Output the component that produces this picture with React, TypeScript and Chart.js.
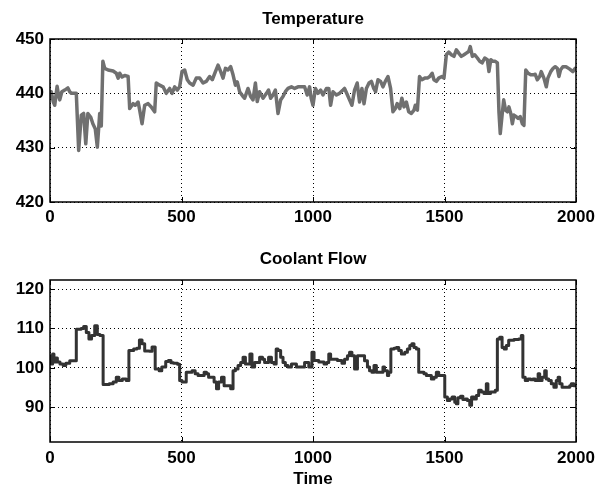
import React, { useEffect, useRef } from "react";
import { Chart, registerables } from "chart.js";

Chart.register(...registerables);

const xTicks = [0, 500, 1000, 1500, 2000];
const tempTicks = [420, 430, 440, 450];
const flowTicks = [90, 100, 110, 120];

const tempTime = [
  0, 5, 12, 18, 27, 33, 37, 45, 56, 68, 75, 81, 100, 109, 119, 128, 136, 144, 155, 163, 172, 180, 189, 195,
  201, 208, 221, 240, 252, 259, 265, 274, 284, 297, 303, 316, 324, 335, 341, 350, 360, 373, 385, 398, 404,
  417, 430, 442, 455, 464, 474, 484, 493, 502, 512, 522, 531, 544, 556, 569, 582, 594, 607, 617, 629, 639,
  649, 658, 667, 677, 687, 696, 705, 712, 721, 734, 740, 753, 763, 772, 781, 788, 797, 810, 823, 831, 839,
  848, 857, 867, 877, 886, 895, 905, 918, 930, 943, 956, 968, 978, 987, 993, 1000, 1009, 1019, 1029, 1038,
  1051, 1060, 1067, 1076, 1089, 1101, 1114, 1120, 1131, 1139, 1148, 1158, 1168, 1177, 1186, 1194, 1203,
  1213, 1222, 1231, 1238, 1247, 1257, 1266, 1275, 1285, 1295, 1304, 1313, 1320, 1330, 1338, 1346, 1355,
  1364, 1374, 1384, 1389, 1397, 1405, 1414, 1425, 1435, 1444, 1453, 1460, 1469, 1478, 1490, 1498, 1507,
  1516, 1526, 1536, 1545, 1554, 1564, 1574, 1583, 1592, 1598, 1606, 1615, 1625, 1634, 1643, 1653, 1663,
  1669, 1676, 1684, 1693, 1701, 1707, 1712, 1719, 1725, 1732, 1739, 1745, 1752, 1758, 1764, 1773, 1780,
  1788, 1796, 1802, 1809, 1818, 1828, 1836, 1845, 1853, 1862, 1868, 1878, 1887, 1893, 1904, 1913, 1921,
  1929, 1935, 1941, 1950, 1962, 1975, 1988, 1997, 2000,
];
const tempValue = [
  439.0, 440.3, 438.5, 437.8, 441.3, 439.5, 438.8, 440.3, 440.6, 441.0, 440.3, 440.0, 440.0, 429.5, 436.0,
  436.3, 430.7, 436.3, 435.6, 434.4, 433.5, 430.1, 436.3, 434.0, 445.9, 444.6, 444.3, 444.1, 443.7, 442.8,
  443.7, 443.0, 443.3, 443.1, 437.2, 438.1, 437.8, 438.4, 436.9, 434.4, 437.8, 438.1, 437.5, 436.6, 441.9,
  441.5, 441.2, 440.0, 440.9, 440.0, 441.2, 440.6, 441.2, 444.0, 444.3, 442.5, 441.9, 441.5, 442.8, 442.8,
  441.9, 442.2, 443.1, 442.5, 444.0, 445.2, 444.0, 442.8, 444.6, 444.3, 444.9, 443.4, 441.5, 442.1, 440.3,
  439.4, 439.1, 440.9, 439.4, 438.8, 441.9, 438.5, 440.3, 439.1, 440.0, 440.6, 439.1, 439.7, 440.6, 436.3,
  438.8, 439.4, 440.3, 440.9, 441.2, 440.9, 441.2, 441.2, 441.2, 439.7, 441.2, 439.1, 437.8, 440.9, 440.0,
  440.6, 439.7, 440.9, 440.9, 437.8, 440.3, 439.7, 440.0, 440.6, 440.9, 439.7, 438.8, 437.8, 440.6, 441.9,
  438.4, 440.9, 438.1, 440.9, 441.9, 442.2, 440.9, 440.3, 442.5, 442.2, 441.2, 442.2, 443.1, 440.9, 436.6,
  437.2, 438.1, 437.2, 439.1, 437.5, 438.4, 436.6, 436.3, 436.9, 437.8, 436.9, 443.1, 442.5, 442.8, 442.8,
  443.1, 443.7, 442.5, 442.2, 442.8, 443.1, 442.8, 447.1, 447.6, 447.1, 446.8, 448.0, 447.4, 446.8, 447.1,
  447.4, 447.7, 448.6, 446.8, 447.1, 446.5, 445.9, 445.6, 446.5, 446.2, 444.0, 446.2, 445.9, 445.9, 445.6,
  436.6, 432.6, 436.0, 438.8, 436.9, 436.6, 437.5, 436.3, 434.4, 436.0, 435.7, 435.4, 435.7, 434.4, 434.1,
  444.3, 443.7, 443.4, 443.4, 443.5, 442.5, 443.1, 444.0, 442.8, 441.2, 442.8, 444.0, 444.6, 444.9, 444.6,
  443.1, 444.3, 444.9, 444.9, 444.5, 444.0, 444.6, 444.3,
];

const flowTime = [
  0, 5, 10, 15, 20, 28, 38, 50, 60, 75, 100, 118, 128, 138, 148, 158, 170, 180, 190, 202, 225, 240, 252,
  262, 275, 290, 300, 318, 330, 340, 350, 360, 378, 388, 400, 415, 425, 440, 450, 460, 470, 485, 493, 502,
  518, 540, 552, 563, 586, 595, 603, 624, 633, 641, 652, 662, 687, 696, 705, 715, 725, 734, 743, 760, 768,
  778, 797, 808, 816, 831, 842, 852, 860, 867, 877, 886, 895, 905, 918, 937, 968, 984, 996, 1004, 1022,
  1042, 1052, 1060, 1067, 1093, 1110, 1120, 1131, 1139, 1148, 1158, 1169, 1186, 1196, 1207, 1215, 1224,
  1232, 1241, 1266, 1272, 1283, 1288, 1296, 1308, 1317, 1326, 1336, 1349, 1359, 1368, 1376, 1384, 1393,
  1402, 1422, 1431, 1450, 1460, 1469, 1478, 1494, 1501, 1511, 1520, 1529, 1539, 1545, 1551, 1561, 1570,
  1579, 1587, 1596, 1603, 1612, 1621, 1630, 1640, 1650, 1659, 1665, 1675, 1693, 1701, 1710, 1719, 1727,
  1735, 1744, 1764, 1782, 1792, 1798, 1807, 1817, 1828, 1836, 1845, 1856, 1862, 1871, 1881, 1887, 1896,
  1906, 1916, 1925, 1932, 1938, 1947, 1967, 1976, 1982, 1992, 2000,
];
const flowValue = [
  103.0, 101.0, 103.5, 101.5, 102.5, 101.5, 101.0, 100.6, 101.2, 101.8, 109.8, 110.0, 110.5, 109.0, 107.3,
  108.2, 110.7, 108.5, 108.2, 95.8, 96.0, 96.4, 97.6, 96.8, 97.2, 96.8, 104.4, 104.8, 105.0, 107.1, 106.1,
  104.3, 104.2, 105.3, 99.7, 99.3, 100.2, 101.6, 101.9, 101.3, 101.2, 100.9, 96.8, 96.4, 98.9, 99.3, 98.5,
  98.1, 98.9, 98.5, 97.6, 96.4, 94.7, 96.4, 97.6, 95.5, 94.7, 99.3, 99.7, 100.6, 101.4, 102.7, 101.0, 103.5,
  100.2, 101.4, 102.7, 102.2, 101.4, 102.7, 101.4, 101.0, 104.8, 104.4, 102.7, 101.4, 100.6, 100.2, 101.0,
  100.2, 101.4, 100.2, 104.0, 101.9, 101.5, 101.0, 101.4, 103.5, 102.2, 101.9, 101.2, 102.2, 103.1, 104.0,
  103.1, 99.7, 103.1, 103.1, 101.8, 100.2, 99.3, 98.9, 100.6, 98.9, 100.2, 99.3, 98.1, 98.9, 104.8, 105.0,
  105.2, 104.4, 103.5, 104.0, 104.8, 105.7, 106.1, 105.2, 104.8, 98.9, 98.5, 98.1, 97.2, 97.6, 98.9, 98.1,
  98.1, 92.6, 91.7, 92.1, 92.6, 91.3, 90.9, 92.4, 92.8, 92.0, 92.1, 91.7, 90.5, 92.6, 92.1, 93.0, 94.3,
  93.9, 93.5, 96.0, 93.5, 93.9, 94.3, 107.3, 107.8, 105.2, 104.8, 105.7, 107.0, 107.2, 107.3, 108.2, 97.6,
  96.8, 97.2, 97.0, 97.2, 96.8, 98.5, 96.8, 97.6, 99.3, 97.2, 96.8, 96.0, 95.1, 96.8, 97.6, 96.0, 95.1,
  95.1, 95.5, 96.0, 95.5, 95.5,
];

const FONT = "'Liberation Sans', Arial, Helvetica, sans-serif";

const boxPlugin = {
  id: "boxTicks",
  afterDraw(chart: any) {
    const { ctx, chartArea: a, scales } = chart;
    const L = 5;
    ctx.save();
    ctx.strokeStyle = "#000";
    ctx.lineWidth = 1;
    ctx.beginPath();
    scales.x.ticks.forEach((t: any) => {
      const px = Math.round(scales.x.getPixelForValue(t.value)) + 0.5;
      ctx.moveTo(px, a.bottom);
      ctx.lineTo(px, a.bottom - L);
      ctx.moveTo(px, a.top);
      ctx.lineTo(px, a.top + L);
    });
    scales.y.ticks.forEach((t: any) => {
      const py = Math.round(scales.y.getPixelForValue(t.value)) + 0.5;
      ctx.moveTo(a.left, py);
      ctx.lineTo(a.left + L, py);
      ctx.moveTo(a.right, py);
      ctx.lineTo(a.right - L, py);
    });
    ctx.stroke();
    ctx.lineWidth = 1.5;
    ctx.strokeRect(a.left, a.top, a.right - a.left, a.bottom - a.top);
    ctx.restore();
  },
};

type PanelProps = {
  title: string;
  times: number[];
  values: number[];
  color: string;
  lineWidth: number;
  stepped: boolean;
  yMin: number;
  yMax: number;
  yTicks: number[];
  titlePadTop: number;
  titlePadBottom: number;
  xHeight: number;
  xTickPad: number;
  xTitle?: string;
  top: number;
};

function Panel(p: PanelProps) {
  const ref = useRef<HTMLCanvasElement | null>(null);
  useEffect(() => {
    if (!ref.current) return;
    const pts = p.times.map((t, i) => ({ x: t, y: p.values[i] }));
    const tickFont = { family: FONT, size: 17, weight: "bold" as const, lineHeight: 1.2 };
    const chart = new Chart(ref.current, {
      type: "line",
      data: {
        datasets: [
          {
            data: pts,
            borderColor: p.color,
            borderWidth: p.lineWidth,
            pointRadius: 0,
            tension: 0,
            fill: false,
            borderJoinStyle: "round",
            stepped: p.stepped ? "before" : false,
          } as any,
        ],
      },
      options: {
        animation: false,
        responsive: false,
        devicePixelRatio: 1,
        layout: { padding: { left: 0, right: 19, top: 0, bottom: 0 } },
        plugins: {
          legend: { display: false },
          tooltip: { enabled: false },
          title: {
            display: true,
            fullSize: false,
            text: p.title,
            color: "#000",
            font: { family: FONT, size: 17, weight: "bold", lineHeight: 1.2 },
            padding: { top: p.titlePadTop, bottom: p.titlePadBottom },
          },
        },
        scales: {
          x: {
            type: "linear",
            min: 0,
            max: 2000,
            afterBuildTicks: (s: any) => {
              s.ticks = xTicks.map((v) => ({ value: v }));
            },
            afterFit: (s: any) => {
              s.height = p.xHeight;
              s.paddingLeft = 0;
              s.paddingRight = 0;
            },
            grid: { color: "#000", lineWidth: 1, drawTicks: false },
            border: { display: false, dash: [1, 3] },
            ticks: {
              color: "#000",
              font: tickFont,
              padding: p.xTickPad,
              maxRotation: 0,
              autoSkip: false,
              callback: (v: any) => String(v),
            },
            title: p.xTitle
              ? {
                  display: true,
                  text: p.xTitle,
                  color: "#000",
                  font: { family: FONT, size: 17, weight: "bold", lineHeight: 1 },
                  padding: { top: 0, bottom: -2 },
                }
              : { display: false },
          },
          y: {
            type: "linear",
            min: p.yMin,
            max: p.yMax,
            afterBuildTicks: (s: any) => {
              s.ticks = p.yTicks.map((v) => ({ value: v }));
            },
            afterFit: (s: any) => {
              s.width = 50;
            },
            grid: { color: "#000", lineWidth: 1, drawTicks: false },
            border: { display: false, dash: [1, 3] },
            ticks: {
              color: "#000",
              font: tickFont,
              padding: 6,
              callback: (v: any) => String(v),
            },
          },
        },
      } as any,
      plugins: [boxPlugin],
    });
    return () => chart.destroy();
  }, []);
  return (
    <canvas
      ref={ref}
      width={595}
      height={243}
      style={{ position: "absolute", left: 0, top: p.top, width: 595, height: 243 }}
    />
  );
}

export default function App() {
  return (
    <div
      style={{
        position: "absolute",
        left: 0,
        top: 0,
        width: 595,
        height: 486,
        background: "#fff",
        overflow: "hidden",
      }}
    >
      <Panel
        title="Temperature"
        times={tempTime}
        values={tempValue}
        color="#707070"
        lineWidth={3.5}
        stepped={false}
        yMin={420}
        yMax={450}
        yTicks={tempTicks}
        titlePadTop={8.8}
        titlePadBottom={9.8}
        xHeight={41}
        xTickPad={5}
        top={0}
      />
      <Panel
        title="Coolant Flow"
        times={flowTime}
        values={flowValue}
        color="#333333"
        lineWidth={3}
        stepped={true}
        yMin={81.2}
        yMax={122.3}
        yTicks={flowTicks}
        titlePadTop={5.8}
        titlePadBottom={10.8}
        xHeight={44}
        xTickPad={6}
        xTitle="Time"
        top={243}
      />
    </div>
  );
}
